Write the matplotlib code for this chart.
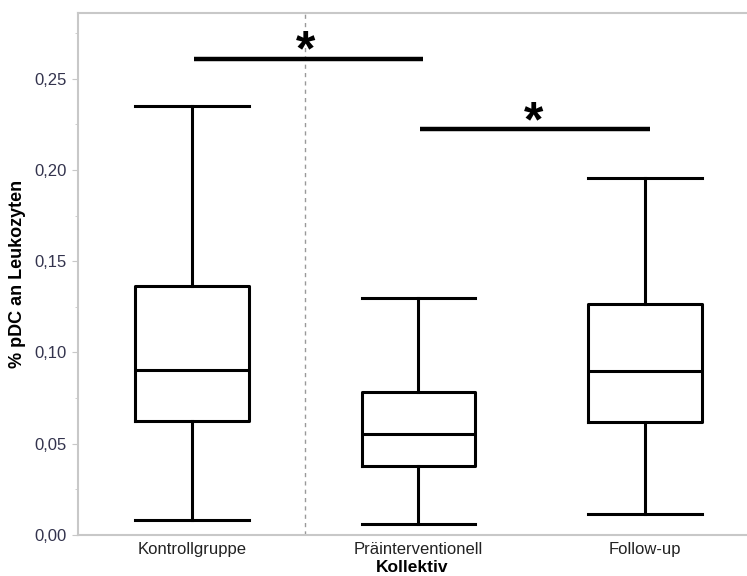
import matplotlib
matplotlib.use("Agg")
import matplotlib.pyplot as plt
from matplotlib.ticker import MultipleLocator, FuncFormatter

plt.rcParams['font.family'] = ['Liberation Sans', 'DejaVu Sans']

# Box statistics
groups = ["Kontrollgruppe", "Präinterventionell", "Follow-up"]
whislo = [0.0082, 0.0059, 0.0113]
q1 = [0.0626, 0.0380, 0.0620]
med = [0.0902, 0.0551, 0.0896]
q3 = [0.1364, 0.0782, 0.1265]
whishi = [0.2352, 0.1300, 0.1955]

# significance brackets: start, end, height and star position
sig_x0 = [0.01, 1.005]
sig_x1 = [1.02, 2.02]
sig_y = [0.2607, 0.2222]
star_x = [0.5, 1.51]

gray = "#c8c8c8"

fig = plt.figure(figsize=(7.47, 5.76), dpi=100)
ax = fig.add_axes([0.1044, 0.0712, 0.8956, 0.9058])

stats = []
for i, g in enumerate(groups):
    stats.append(dict(label=g, whislo=whislo[i], q1=q1[i], med=med[i],
                      q3=q3[i], whishi=whishi[i], fliers=[]))

lw = 2.2
ax.bxp(stats, positions=range(len(groups)), widths=0.5, showfliers=False,
       boxprops=dict(color="black", linewidth=lw),
       medianprops=dict(color="black", linewidth=lw),
       whiskerprops=dict(color="black", linewidth=lw),
       capprops=dict(color="black", linewidth=lw),
       capwidths=0.5)

ax.axvline(0.5, color="#999999", linestyle=(0, (3, 3)), linewidth=1)

for x0, x1, y, sx in zip(sig_x0, sig_x1, sig_y, star_x):
    ax.plot([x0, x1], [y, y], color="black", linewidth=3.2, solid_capstyle="butt")
    ax.text(sx, y - 0.0035, "*", ha="center", va="baseline",
            fontsize=36, fontweight="bold")

ax.set_xlim(-0.503, 2.45)
ax.set_ylim(0, 0.2859)

ax.yaxis.set_major_locator(MultipleLocator(0.05))
ax.yaxis.set_minor_locator(MultipleLocator(0.025))
ax.yaxis.set_major_formatter(FuncFormatter(lambda v, p: f"{v:.2f}".replace(".", ",")))
ax.tick_params(axis="y", which="major", length=4, color=gray, labelsize=12,
               labelcolor="#33334d", pad=4)
ax.tick_params(axis="y", which="minor", length=2.5, color=gray)
ax.tick_params(axis="x", length=0, labelsize=12, pad=5, labelcolor="#222222")

for s in ["left", "bottom", "top"]:
    ax.spines[s].set_color(gray)
    ax.spines[s].set_linewidth(1.5)
ax.spines["right"].set_visible(False)

ax.set_ylabel("% pDC an Leukozyten", fontsize=13, fontweight="bold", labelpad=6)
ax.set_xlabel("Kollektiv", fontsize=12.5, fontweight="bold", labelpad=2.5)

fig.savefig("out.png", dpi=100)
